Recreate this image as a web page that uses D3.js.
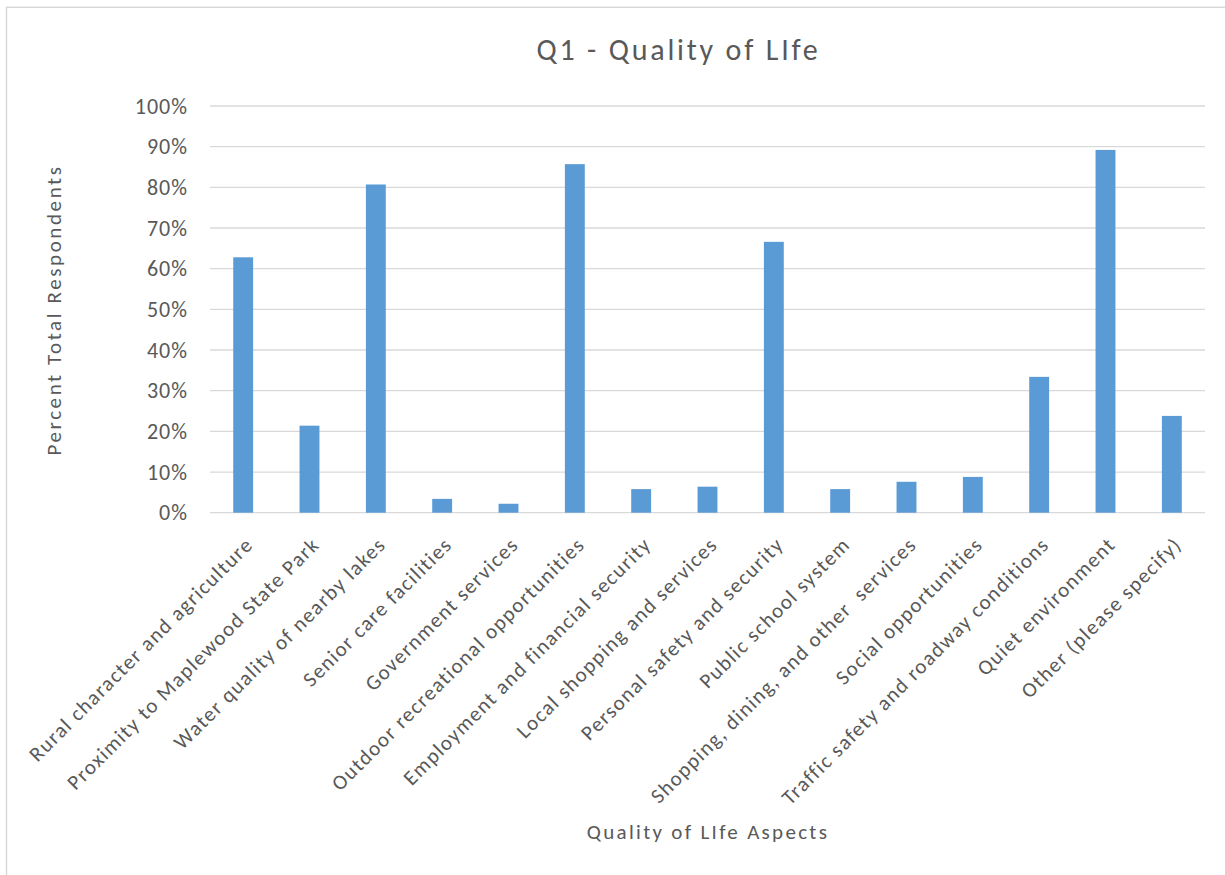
<!DOCTYPE html>
<html>
<head>
<meta charset="utf-8">
<script src="https://cdn.jsdelivr.net/npm/d3@7/dist/d3.min.js"></script>
<style>
  html, body { margin: 0; padding: 0; background: #ffffff; }
  svg { display: block; }
  text { font-family: Carlito, Calibri, "Open Sans", sans-serif; fill: #595959; white-space: pre; }
</style>
</head>
<body>
<svg id="chart" width="1225" height="875"></svg>
<script>
const categories = [
  "Rural character and agriculture",
  "Proximity to Maplewood State Park",
  "Water quality of nearby lakes",
  "Senior care facilities",
  "Government services",
  "Outdoor recreational opportunities",
  "Employment and financial security",
  "Local shopping and services",
  "Personal safety and security",
  "Public school system",
  "Shopping, dining, and other  services",
  "Social opportunities",
  "Traffic safety and roadway conditions",
  "Quiet environment",
  "Other (please specify)"
];
const values = [0.628, 0.214, 0.807, 0.034, 0.022, 0.857, 0.058, 0.064, 0.666, 0.058, 0.076, 0.088, 0.334, 0.892, 0.238];
const yTicks = [0, 0.1, 0.2, 0.3, 0.4, 0.5, 0.6, 0.7, 0.8, 0.9, 1.0];
const titleText = "Q1 - Quality of LIfe";
const xTitle = "Quality of LIfe Aspects";
const yTitle = "Percent Total Respondents";

const svg = d3.select("#chart");
const W = 1225, H = 875;
const plot = { left: 210, right: 1205, top: 106, bottom: 512.7 };

// outer border (chart area)
svg.append("rect")
  .attr("x", 6.5).attr("y", 7.3)
  .attr("width", W + 10).attr("height", H + 10)
  .attr("fill", "none").attr("stroke", "#d9d9d9").attr("stroke-width", 1.5);

const x = d3.scaleBand().domain(categories).range([plot.left, plot.right]).padding(0);
const y = d3.scaleLinear().domain([0, 1]).range([plot.bottom, plot.top]);

// gridlines
svg.append("g").selectAll("line").data(yTicks).join("line")
  .attr("x1", plot.left).attr("x2", plot.right)
  .attr("y1", d => y(d)).attr("y2", d => y(d))
  .attr("stroke", "#d9d9d9").attr("stroke-width", 1.3);

// y axis labels
const yAxis = d3.axisLeft(y).tickValues(yTicks).tickFormat(d3.format(".0%")).tickSize(0).tickPadding(0);
const ya = svg.append("g").attr("transform", `translate(${plot.left - 22},0)`).call(yAxis);
ya.select(".domain").remove();
ya.selectAll("text")
  .attr("font-size", 22)
  .attr("font-family", null)
  .attr("letter-spacing", 1)
  .attr("fill", "#595959");

// bars
const bw = x.bandwidth() * 0.3;
svg.append("g").selectAll("rect").data(values).join("rect")
  .attr("x", (d, i) => x(categories[i]) + x.bandwidth() / 2 - bw / 2)
  .attr("y", d => y(d))
  .attr("width", bw)
  .attr("height", d => y(0) - y(d))
  .attr("fill", "#5b9bd5");

// x axis category labels
const xAxis = d3.axisBottom(x).tickSize(0).tickPadding(0);
const xa = svg.append("g").attr("transform", `translate(0,${plot.bottom})`).call(xAxis);
xa.select(".domain").remove();
xa.selectAll("text")
  .attr("font-size", 21)
  .attr("font-family", null)
  .attr("letter-spacing", 1.4)
  .attr("fill", "#595959")
  .attr("text-anchor", "end")
  .attr("dy", "0.35em")
  .attr("y", 0)
  .attr("transform", "translate(6,28) rotate(-45)");

// title
svg.append("text")
  .attr("x", 678.5).attr("y", 60)
  .attr("text-anchor", "middle")
  .attr("font-size", 30)
  .attr("letter-spacing", 2.8)
  .text(titleText);

// x title
svg.append("text")
  .attr("x", 708).attr("y", 839)
  .attr("text-anchor", "middle")
  .attr("font-size", 21)
  .attr("letter-spacing", 2.3)
  .text(xTitle);

// y title
svg.append("text")
  .attr("transform", `translate(61,310) rotate(-90)`)
  .attr("text-anchor", "middle")
  .attr("font-size", 21)
  .attr("letter-spacing", 2.6)
  .text(yTitle);
</script>
</body>
</html>
